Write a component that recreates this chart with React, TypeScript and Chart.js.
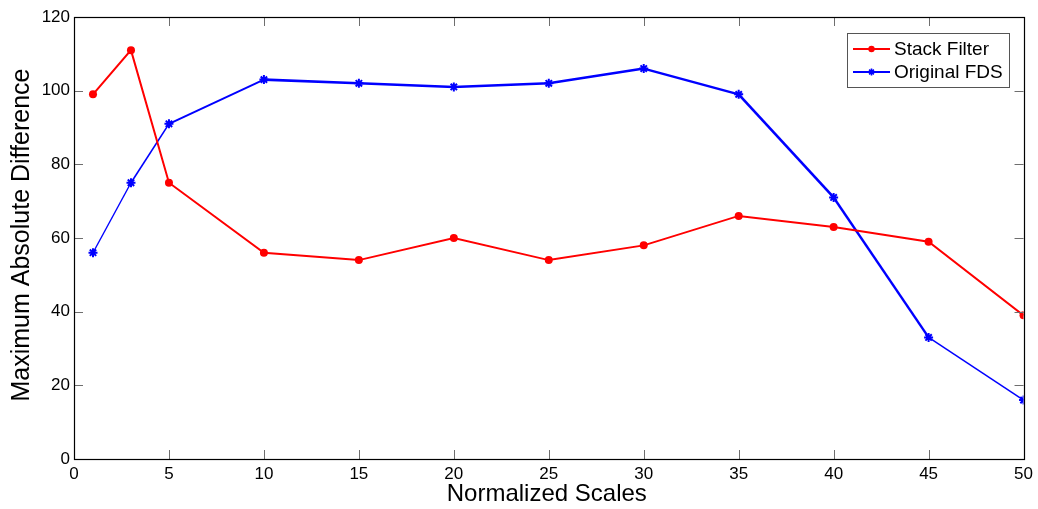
import React, { useEffect, useRef } from "react";
import { Chart, registerables } from "chart.js";

Chart.register(...registerables);

// Normalized scale at which each measurement was taken
const scales = [1, 3, 5, 10, 15, 20, 25, 30, 35, 40, 45, 50];
// Maximum absolute difference for each method
const stackFilter = [99, 111, 75, 56, 54, 60, 54, 58, 66, 63, 59, 39];
const originalFDS = [56, 75, 91, 103, 102, 101, 102, 106, 99, 71, 33, 16];

const xTicks = [0, 5, 10, 15, 20, 25, 30, 35, 40, 45, 50];
const yTicks = [0, 20, 40, 60, 80, 100, 120];

const seriesNames = ["Stack Filter", "Original FDS"];
const xTitle = "Normalized Scales";
const yTitle = "Maximum Absolute Difference";

const FONT = "'Liberation Sans', Arial, Helvetica, sans-serif";

// Frame, inward tick marks, axis titles and the in-plot legend
const framePlugin = {
  id: "matlabFrame",
  afterDraw(chart: any) {
    const { ctx, chartArea } = chart;
    const { left, right, top, bottom } = chartArea;
    const xs = chart.scales.x;
    const ys = chart.scales.y;
    const tl = 9;
    ctx.save();

    // tick marks pointing into the plot on all four sides
    ctx.lineWidth = 1;
    ctx.strokeStyle = "#6e6e6e";
    ctx.beginPath();
    xTicks.forEach((v) => {
      const px = Math.round(xs.getPixelForValue(v)) + 0.5;
      ctx.moveTo(px, bottom);
      ctx.lineTo(px, bottom - tl);
      ctx.moveTo(px, top);
      ctx.lineTo(px, top + tl);
    });
    yTicks.forEach((v) => {
      const py = Math.round(ys.getPixelForValue(v)) + 0.5;
      ctx.moveTo(left, py);
      ctx.lineTo(left + tl, py);
      ctx.moveTo(right, py);
      ctx.lineTo(right - tl, py);
    });
    ctx.stroke();

    // box around the axes
    ctx.strokeStyle = "#000";
    ctx.lineWidth = 1.2;
    ctx.strokeRect(
      Math.round(left) + 0.5,
      Math.round(top) + 0.5,
      Math.round(right - left),
      Math.round(bottom - top)
    );

    // axis titles
    ctx.fillStyle = "#000";
    ctx.font = `24px ${FONT}`;
    ctx.textAlign = "center";
    ctx.textBaseline = "middle";
    ctx.fillText(xTitle, (left + right) / 2 - 2, 494);
    ctx.save();
    ctx.translate(22, (top + bottom) / 2 - 3);
    ctx.rotate(-Math.PI / 2);
    ctx.font = `25px ${FONT}`;
    ctx.fillText(yTitle, 0, 0);
    ctx.restore();

    // legend box
    const lx = 847;
    const ly = 33;
    const lw = 162;
    const lh = 54;
    ctx.fillStyle = "#fff";
    ctx.fillRect(lx, ly, lw, lh);
    ctx.strokeStyle = "#555";
    ctx.lineWidth = 1;
    ctx.strokeRect(lx + 0.5, ly + 0.5, lw, lh);

    const rows = [ly + 16, ly + 39];
    chart.data.datasets.forEach((ds: any, i: number) => {
      const y = rows[i];
      ctx.strokeStyle = ds.borderColor;
      ctx.lineWidth = 2;
      ctx.beginPath();
      ctx.moveTo(853, y);
      ctx.lineTo(890, y);
      ctx.stroke();
      if (ds.pointStyle === "circle") {
        ctx.fillStyle = ds.borderColor;
        ctx.beginPath();
        ctx.arc(871.5, y, 3.2, 0, Math.PI * 2);
        ctx.fill();
      } else {
        ctx.lineWidth = 1.6;
        ctx.beginPath();
        for (let k = 0; k < 4; k++) {
          const a = (k * Math.PI) / 4;
          const r = 3.4;
          ctx.moveTo(871.5 + Math.cos(a) * r, y + Math.sin(a) * r);
          ctx.lineTo(871.5 - Math.cos(a) * r, y - Math.sin(a) * r);
        }
        ctx.stroke();
      }
      ctx.fillStyle = "#000";
      ctx.font = `19px ${FONT}`;
      ctx.textAlign = "left";
      ctx.textBaseline = "middle";
      ctx.fillText(ds.label, 894, y + 1);
    });

    ctx.restore();
  },
};

export default function App() {
  const canvasRef = useRef<HTMLCanvasElement | null>(null);

  useEffect(() => {
    const canvas = canvasRef.current;
    if (!canvas) return;

    const blueWidths = [1.4, 1.6, 2, 2.6, 2.6, 2.6, 2.6, 2.4, 2.6, 2.4, 1.5];

    const chart = new Chart(canvas, {
      type: "line",
      data: {
        datasets: [
          {
            label: seriesNames[0],
            data: scales.map((x, i) => ({ x, y: stackFilter[i] })),
            borderColor: "#ff0000",
            backgroundColor: "#ff0000",
            borderWidth: 2,
            pointStyle: "circle",
            pointRadius: 4,
            pointBorderWidth: 0,
            pointBackgroundColor: "#ff0000",
            tension: 0,
          },
          {
            label: seriesNames[1],
            data: scales.map((x, i) => ({ x, y: originalFDS[i] })),
            borderColor: "#0000ff",
            backgroundColor: "#0000ff",
            borderWidth: 2,
            pointStyle: "star",
            pointRadius: 4.5,
            pointBorderWidth: 2,
            pointBorderColor: "#0000ff",
            tension: 0,
            segment: {
              borderWidth: (c: any) => blueWidths[c.p0DataIndex] ?? 2,
            },
          },
        ],
      },
      options: {
        responsive: false,
        animation: false,
        events: [],
        layout: { padding: { top: 17, right: 14, left: 0, bottom: 0 } },
        plugins: {
          legend: { display: false },
          tooltip: { enabled: false },
        },
        scales: {
          x: {
            type: "linear",
            min: 0,
            max: 50,
            afterFit: (s: any) => {
              s.height = 50;
            },
            afterBuildTicks: (s: any) => {
              s.ticks = xTicks.map((v) => ({ value: v }));
            },
            grid: { display: false, drawTicks: false },
            border: { display: false },
            ticks: {
              padding: 5,
              color: "#000",
              maxRotation: 0,
              autoSkip: false,
              font: { family: FONT, size: 17 },
            },
          },
          y: {
            type: "linear",
            min: 0,
            max: 120,
            afterFit: (s: any) => {
              s.width = 74;
            },
            afterBuildTicks: (s: any) => {
              s.ticks = yTicks.map((v) => ({ value: v }));
            },
            grid: { display: false, drawTicks: false },
            border: { display: false },
            ticks: {
              padding: 4,
              color: "#000",
              autoSkip: false,
              font: { family: FONT, size: 17 },
            },
          },
        },
      },
      plugins: [framePlugin],
    });

    return () => chart.destroy();
  }, []);

  return (
    <div style={{ position: "absolute", left: 0, top: 0, width: 1038, height: 509, background: "#fff" }}>
      <canvas ref={canvasRef} width={1038} height={509} style={{ display: "block" }} />
    </div>
  );
}
